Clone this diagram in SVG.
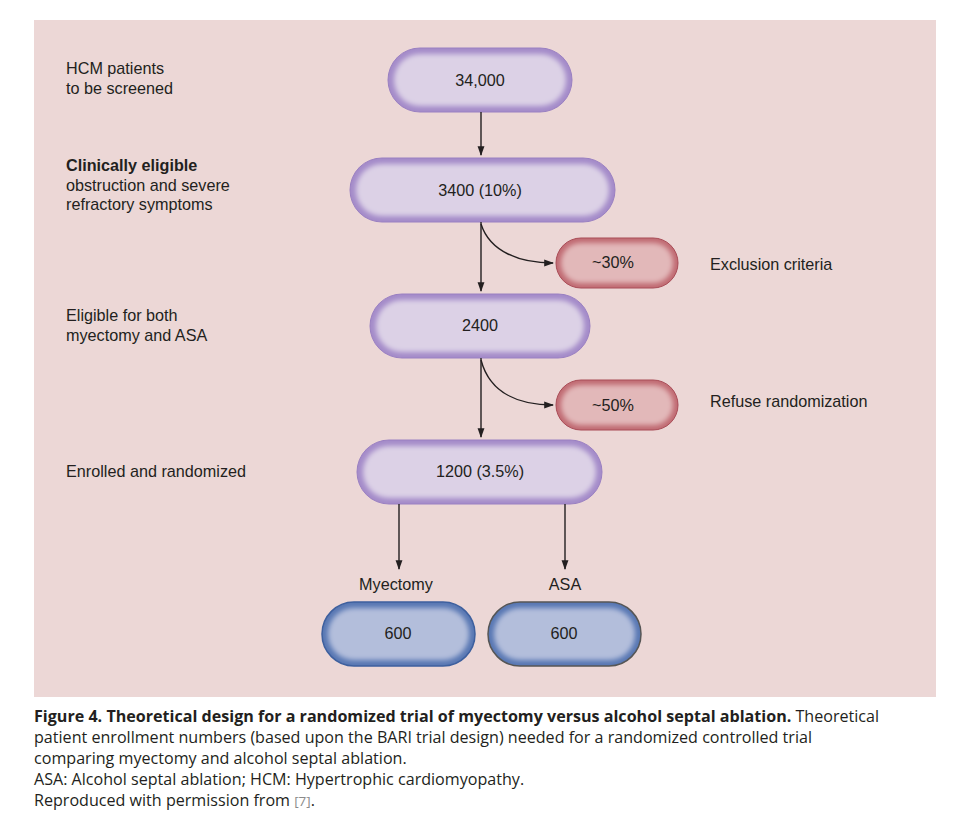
<svg xmlns="http://www.w3.org/2000/svg" width="967" height="814" viewBox="0 0 967 814">
<style>
text{font-family:"Liberation Sans",Arial,sans-serif;font-size:16.2px;fill:#231f20}
.c{text-anchor:middle}
.cap{font-family:"Open Sans","DejaVu Sans",sans-serif;font-size:16.1px;fill:#231f20}
.pu{fill:#a48bc9;stroke:#9a80c2;stroke-width:1}
.pi{fill:#dcd1e6}
.re{fill:#c06a72;stroke:#a84a55;stroke-width:1}
.ri{fill:#e2b8b9}
.bu{fill:#5877b3;stroke:#3d5f9e;stroke-width:1.5}
.bi{fill:#b3bedb}
.ln{stroke:#231f20;stroke-width:1.4;fill:none;marker-end:url(#a)}
</style>
<defs>
<marker id="a" viewBox="0 0 10 10" refX="9" refY="5" markerWidth="7" markerHeight="7" orient="auto"><path d="M0,1.5L10,5L0,8.5z" fill="#231f20"/></marker>
<filter id="s" x="-10%" y="-20%" width="120%" height="140%"><feGaussianBlur stdDeviation="2.5"/></filter>
</defs>
<rect x="34" y="20" width="902" height="677" fill="#ecd7d6"/>
<g id="n1"><rect class="pu" x="388" y="48" width="184" height="64" rx="32"/><rect class="pi" filter="url(#s)" x="394" y="54" width="172" height="52" rx="26"/><text class="c" x="480" y="86">34,000</text></g>
<g id="n2"><rect class="pu" x="350" y="158" width="265" height="64" rx="32"/><rect class="pi" filter="url(#s)" x="356" y="164" width="253" height="52" rx="26"/><text class="c" x="480" y="196">3400 (10%)</text></g>
<g id="n3"><rect class="re" x="556" y="238" width="122" height="50" rx="25"/><rect class="ri" filter="url(#s)" x="561" y="243" width="112" height="40" rx="20"/><text class="c" x="613" y="268">~30%</text></g>
<g id="n4"><rect class="pu" x="370" y="294" width="220" height="64" rx="32"/><rect class="pi" filter="url(#s)" x="376" y="300" width="208" height="52" rx="26"/><text class="c" x="480" y="331">2400</text></g>
<g id="n5"><rect class="re" x="556" y="380" width="122" height="50" rx="25"/><rect class="ri" filter="url(#s)" x="561" y="385" width="112" height="40" rx="20"/><text class="c" x="613" y="411">~50%</text></g>
<g id="n6"><rect class="pu" x="357" y="440" width="245" height="64" rx="32"/><rect class="pi" filter="url(#s)" x="363" y="446" width="233" height="52" rx="26"/><text class="c" x="480" y="477">1200 (3.5%)</text></g>
<g id="n7"><rect class="bu" x="322" y="602" width="153" height="64" rx="32"/><rect class="bi" filter="url(#s)" x="328" y="608" width="141" height="52" rx="26"/><text class="c" x="398" y="639">600</text></g>
<g id="n8"><rect class="bu" x="488" y="602" width="153" height="64" rx="32" style="stroke:#555"/><rect class="bi" filter="url(#s)" x="494" y="608" width="141" height="52" rx="26"/><text class="c" x="564" y="639">600</text></g>
<g id="connectors">
<path class="ln" d="M481,112V155"/>
<path class="ln" d="M481,222V291"/>
<path class="ln" d="M481,358V437"/>
<path class="ln" d="M481,224C490,252 520,263 553,263"/>
<path class="ln" d="M481,360C490,394 520,405 553,405"/>
<path class="ln" d="M399,504V569"/>
<path class="ln" d="M565,504V569"/>
</g>
<g id="labels">
<text x="66" y="74">HCM patients</text><text x="66" y="94">to be screened</text>
<text x="66" y="171" font-weight="bold">Clinically eligible</text><text x="66" y="191">obstruction and severe</text><text x="66" y="210">refractory symptoms</text>
<text x="66" y="321">Eligible for both</text><text x="66" y="341">myectomy and ASA</text>
<text x="66" y="477">Enrolled and randomized</text>
<text x="710" y="270">Exclusion criteria</text>
<text x="710" y="407">Refuse randomization</text>
<text class="c" x="396" y="590">Myectomy</text><text class="c" x="565" y="590">ASA</text>
</g>
<g id="caption">
<text class="cap" x="34" y="722"><tspan font-weight="bold">Figure 4. Theoretical design for a randomized trial of myectomy versus alcohol septal ablation.</tspan> Theoretical</text>
<text class="cap" x="34" y="743">patient enrollment numbers (based upon the BARI trial design) needed for a randomized controlled trial</text>
<text class="cap" x="34" y="764">comparing myectomy and alcohol septal ablation.</text>
<text class="cap" x="34" y="785">ASA: Alcohol septal ablation; HCM: Hypertrophic cardiomyopathy.</text>
<text class="cap" x="34" y="806">Reproduced with permission from <tspan fill="#8a8a8a" font-size="13.5">[7]</tspan>.</text>
</g>
</svg>
